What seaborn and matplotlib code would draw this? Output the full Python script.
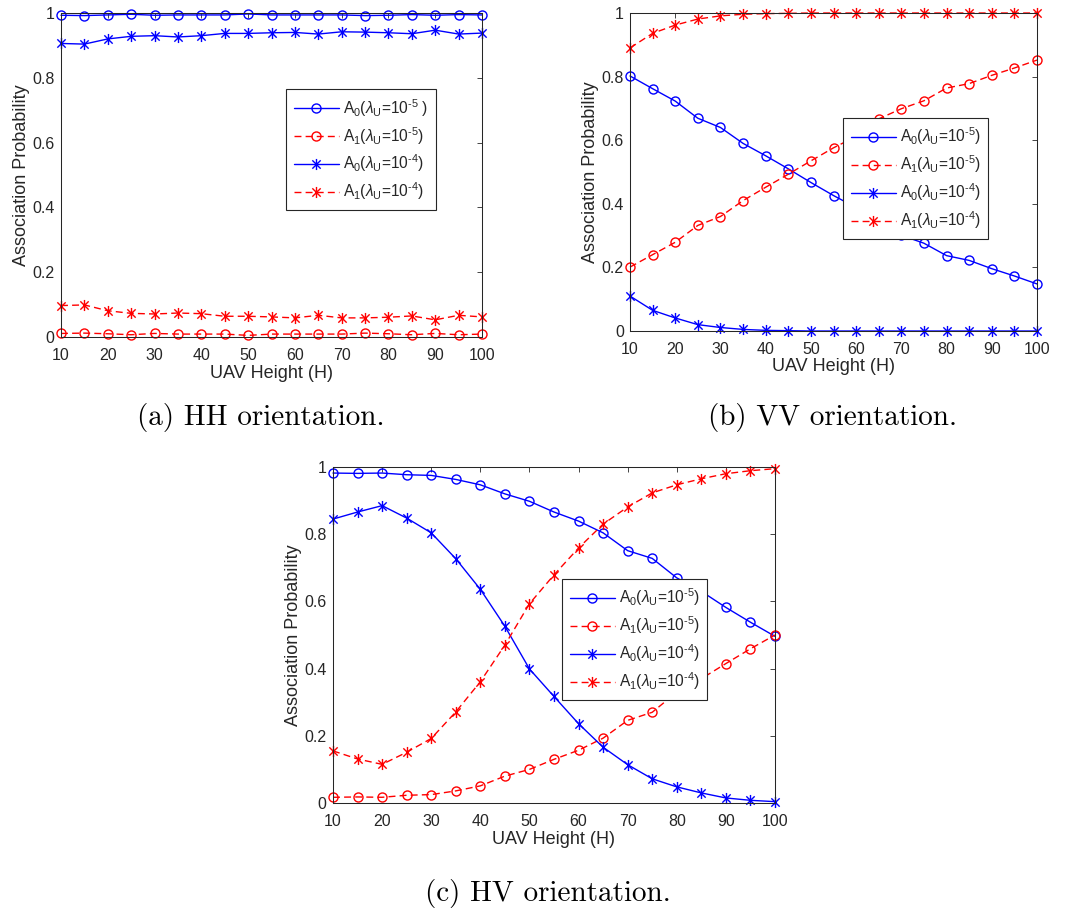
import matplotlib
matplotlib.use("Agg")
import matplotlib.pyplot as plt
from matplotlib.path import Path
import seaborn as sns

# UAV heights (x axis) shared by every panel
heights = [10, 15, 20, 25, 30, 35, 40, 45, 50, 55, 60, 65, 70, 75, 80, 85, 90, 95, 100]
x_ticks = [10, 20, 30, 40, 50, 60, 70, 80, 90, 100]
y_ticks = [0, 0.2, 0.4, 0.6, 0.8, 1.0]
y_tick_labels = ["0", "0.2", "0.4", "0.6", "0.8", "1"]

# (a) HH orientation
hh_a0_l5 = [0.993, 0.992, 0.994, 0.996, 0.993, 0.994, 0.994, 0.994, 0.997, 0.994,
            0.994, 0.994, 0.994, 0.992, 0.993, 0.995, 0.993, 0.995, 0.994]
hh_a1_l5 = [0.011, 0.012, 0.010, 0.007, 0.011, 0.009, 0.009, 0.009, 0.005, 0.009,
            0.009, 0.009, 0.009, 0.012, 0.010, 0.007, 0.011, 0.007, 0.009]
hh_a0_l4 = [0.906, 0.904, 0.920, 0.928, 0.930, 0.926, 0.930, 0.937, 0.937, 0.939,
            0.940, 0.935, 0.942, 0.941, 0.939, 0.936, 0.947, 0.935, 0.938]
hh_a1_l4 = [0.097, 0.099, 0.081, 0.073, 0.071, 0.074, 0.072, 0.064, 0.064, 0.062,
            0.059, 0.067, 0.059, 0.059, 0.061, 0.065, 0.053, 0.067, 0.062]

# (b) VV orientation
vv_a0_l5 = [0.802, 0.762, 0.723, 0.669, 0.640, 0.590, 0.551, 0.510, 0.467, 0.426,
            0.388, 0.333, 0.301, 0.276, 0.237, 0.222, 0.196, 0.173, 0.148]
vv_a1_l5 = [0.201, 0.240, 0.279, 0.332, 0.360, 0.410, 0.452, 0.493, 0.535, 0.576,
            0.612, 0.667, 0.699, 0.724, 0.764, 0.778, 0.804, 0.827, 0.852]
vv_a0_l4 = [0.110, 0.065, 0.041, 0.020, 0.011, 0.005, 0.002, 0.001, 0.000, 0.000,
            0.000, 0.000, 0.000, 0.000, 0.000, 0.000, 0.000, 0.000, 0.000]
vv_a1_l4 = [0.890, 0.936, 0.962, 0.981, 0.991, 0.996, 0.998, 0.999, 1.000, 1.000,
            1.000, 1.000, 1.000, 1.000, 1.000, 1.000, 1.000, 1.000, 1.000]

# (c) HV orientation
hv_a0_l5 = [0.982, 0.981, 0.982, 0.977, 0.975, 0.963, 0.947, 0.920, 0.898, 0.866,
            0.839, 0.804, 0.751, 0.728, 0.670, 0.630, 0.582, 0.538, 0.496]
hv_a1_l5 = [0.017, 0.018, 0.017, 0.023, 0.025, 0.036, 0.051, 0.080, 0.100, 0.130,
            0.157, 0.193, 0.246, 0.270, 0.330, 0.370, 0.415, 0.459, 0.500]
hv_a0_l4 = [0.845, 0.866, 0.885, 0.848, 0.804, 0.727, 0.636, 0.526, 0.399, 0.317,
            0.236, 0.166, 0.114, 0.072, 0.048, 0.030, 0.015, 0.008, 0.004]
hv_a1_l4 = [0.155, 0.131, 0.115, 0.151, 0.192, 0.271, 0.361, 0.470, 0.593, 0.679,
            0.759, 0.830, 0.881, 0.923, 0.947, 0.965, 0.980, 0.989, 0.995]

labels = [
    r"A$_0$($\lambda_\mathrm{U}$=10$^{\text{-}5}$)",
    r"A$_1$($\lambda_\mathrm{U}$=10$^{\text{-}5}$)",
    r"A$_0$($\lambda_\mathrm{U}$=10$^{\text{-}4}$)",
    r"A$_1$($\lambda_\mathrm{U}$=10$^{\text{-}4}$)",
]
labels_hh = [r"A$_0$($\lambda_\mathrm{U}$=10$^{\text{-}5}$ )"] + labels[1:]

captions = ["(a) HH orientation.", "(b) VV orientation.", "(c) HV orientation."]

sns.set_style("white")
plt.rcParams.update({
    "font.family": ["Liberation Sans", "DejaVu Sans"],
    "mathtext.fontset": "custom",
    "mathtext.rm": "Liberation Sans",
    "mathtext.it": "Liberation Sans:italic",
    "mathtext.bf": "Liberation Sans:bold",
    "mathtext.sf": "Liberation Sans",
    "axes.edgecolor": "#262626",
    "axes.linewidth": 0.75,
    "text.color": "#262626",
    "xtick.color": "#262626",
    "ytick.color": "#262626",
})

# asterisk marker: vertical bar plus a diagonal cross
ASTERISK = Path(
    [(0, -1), (0, 1), (-0.75, -0.75), (0.75, 0.75), (-0.75, 0.75), (0.75, -0.75)],
    [Path.MOVETO, Path.LINETO, Path.MOVETO, Path.LINETO, Path.MOVETO, Path.LINETO],
)

BLUE = "#0000ff"
RED = "#ff0000"
DASH = (0, (5, 3))

fig = plt.figure(figsize=(10.71, 9.09), dpi=100)
W, Hh = 1071, 909


def px_axes(left, top, right, bottom):
    return fig.add_axes([left / W, 1 - bottom / Hh, (right - left) / W, (bottom - top) / Hh])


def draw_panel(ax, series, leg_labels, leg_anchor):
    styles = [
        (BLUE, "-", "o"),
        (RED, DASH, "o"),
        (BLUE, "-", ASTERISK),
        (RED, DASH, ASTERISK),
    ]
    for vals, lab, (col, ls, mk) in zip(series, leg_labels, styles):
        sns.lineplot(
            x=heights, y=vals, ax=ax, label=lab, color=col, linestyle=ls,
            linewidth=1.0, marker=mk, markersize=6.5 if mk == "o" else 8,
            markerfacecolor="none", markeredgecolor=col, markeredgewidth=1.0,
            clip_on=False,
        )
    ax.set_xlim(10, 100)
    ax.set_ylim(0, 1)
    ax.set_xticks(x_ticks)
    ax.set_xticklabels([str(t) for t in x_ticks])
    ax.set_yticks(y_ticks)
    ax.set_yticklabels(y_tick_labels)
    ax.tick_params(direction="in", top=True, right=True, length=3.5, width=0.6,
                   labelsize=11.5, pad=4.5)
    ax.tick_params(axis="x", pad=8)
    ax.set_xlabel("UAV Height (H)", fontsize=13, labelpad=1)
    ax.set_ylabel("Association Probability", fontsize=13, labelpad=2)
    for s in ax.spines.values():
        s.set_visible(True)
        s.set_color("#262626")
        s.set_linewidth(0.75)
    leg = ax.legend(
        loc="upper left", bbox_to_anchor=leg_anchor, borderaxespad=0,
        frameon=True, fancybox=False, framealpha=1, edgecolor="#262626",
        fontsize=11.2, handlelength=2.9, handletextpad=0.25, labelspacing=0.4,
        borderpad=0.5,
    )
    leg.get_frame().set_linewidth(0.8)


ax_a = px_axes(61, 13, 482, 337)
draw_panel(ax_a, [hh_a0_l5, hh_a1_l5, hh_a0_l4, hh_a1_l4], labels_hh, (0.534, 0.765))

ax_b = px_axes(630, 13, 1037, 331)
draw_panel(ax_b, [vv_a0_l5, vv_a1_l5, vv_a0_l4, vv_a1_l4], labels, (0.523, 0.670))

ax_c = px_axes(333, 467, 775, 803)
draw_panel(ax_c, [hv_a0_l5, hv_a1_l5, hv_a0_l4, hv_a1_l4], labels, (0.518, 0.667))

cap_kw = dict(ha="center", va="center", fontsize=21, family="cmr10", color="black")
fig.text(261 / W, 1 - 418 / Hh, captions[0], **cap_kw)
fig.text(833 / W, 1 - 418 / Hh, captions[1], **cap_kw)
fig.text(548 / W, 1 - 893 / Hh, captions[2], **cap_kw)

fig.savefig("out.png", dpi=100, facecolor="white")
